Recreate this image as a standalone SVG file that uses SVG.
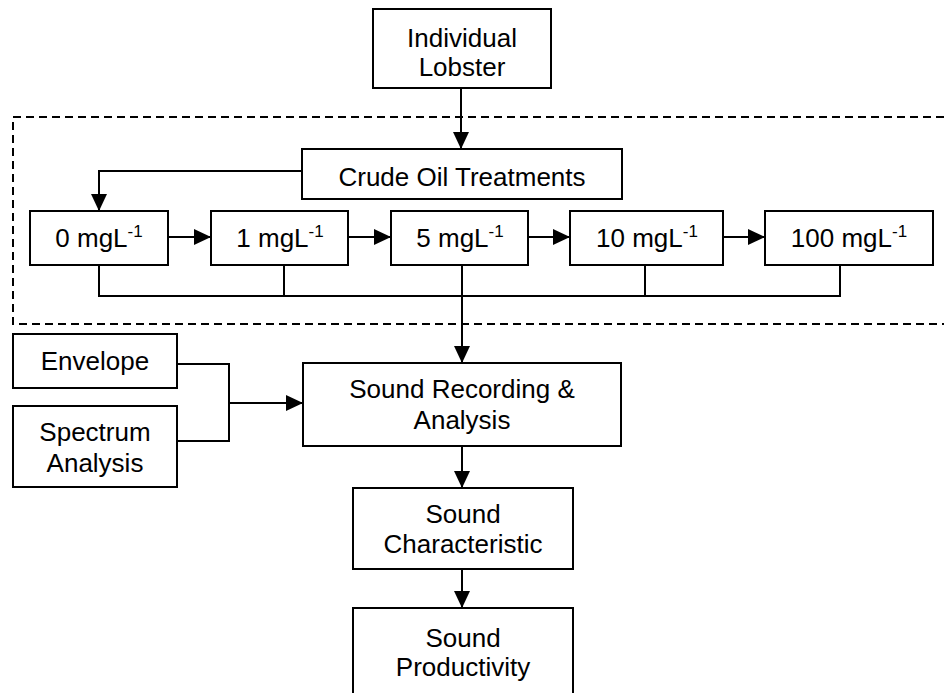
<svg xmlns="http://www.w3.org/2000/svg" width="944" height="693" viewBox="0 0 944 693">
<defs>
<marker id="ah" markerUnits="userSpaceOnUse" markerWidth="18" markerHeight="18" viewBox="0 0 18 18" refX="17" refY="9" orient="auto">
<path d="M0,1 L17,9 L0,17 Z" fill="#000"/>
</marker>
<style>
.box{fill:#fff;stroke:#000;stroke-width:2}
.ln{fill:none;stroke:#000;stroke-width:2}
.arr{fill:none;stroke:#000;stroke-width:2;marker-end:url(#ah)}
.dash{fill:none;stroke:#000;stroke-width:2;stroke-dasharray:8 5}
text{font-family:"Liberation Sans",Arial,sans-serif;font-size:26px;fill:#000;text-anchor:middle}
.sup{font-size:17px}
</style>
</defs>
<rect width="944" height="693" fill="#fff"/>
<path class="dash" d="M944,117 H13 V324 H944"/>
<g id="connectors">
<line class="arr" x1="461" y1="88" x2="461" y2="149"/>
<polyline class="arr" points="302,171 99,171 99,211"/>
<line class="arr" x1="168" y1="237" x2="211" y2="237"/>
<line class="arr" x1="348" y1="237" x2="391" y2="237"/>
<line class="arr" x1="528" y1="237" x2="570" y2="237"/>
<line class="arr" x1="723" y1="237" x2="765" y2="237"/>
<polyline class="ln" points="99,265 99,296 840,296 840,265"/>
<line class="ln" x1="284" y1="265" x2="284" y2="296"/>
<line class="ln" x1="645" y1="265" x2="645" y2="296"/>
<line class="arr" x1="462" y1="265" x2="462" y2="363"/>
<polyline class="ln" points="177,364 229,364 229,441 177,441"/>
<line class="arr" x1="229" y1="403" x2="303" y2="403"/>
<line class="arr" x1="462" y1="446" x2="462" y2="488"/>
<line class="arr" x1="462" y1="569" x2="462" y2="608"/>
</g>
<g id="individual-lobster">
<rect class="box" x="373" y="9" width="178" height="79"/>
<text x="462" y="47">Individual</text>
<text x="462" y="76">Lobster</text>
</g>
<g id="crude-oil">
<rect class="box" x="302" y="149" width="320" height="50"/>
<text x="462" y="186">Crude Oil Treatments</text>
</g>
<g id="t0">
<rect class="box" x="30" y="211" width="138" height="54"/>
<text x="99" y="247">0 mgL<tspan class="sup" dy="-10">-1</tspan></text>
</g>
<g id="t1">
<rect class="box" x="211" y="211" width="137" height="54"/>
<text x="280" y="247">1 mgL<tspan class="sup" dy="-10">-1</tspan></text>
</g>
<g id="t5">
<rect class="box" x="391" y="211" width="137" height="54"/>
<text x="460" y="247">5 mgL<tspan class="sup" dy="-10">-1</tspan></text>
</g>
<g id="t10">
<rect class="box" x="570" y="211" width="153" height="54"/>
<text x="647" y="247">10 mgL<tspan class="sup" dy="-10">-1</tspan></text>
</g>
<g id="t100">
<rect class="box" x="765" y="211" width="168" height="54"/>
<text x="849" y="247">100 mgL<tspan class="sup" dy="-10">-1</tspan></text>
</g>
<g id="envelope">
<rect class="box" x="13" y="334" width="164" height="54"/>
<text x="95" y="370">Envelope</text>
</g>
<g id="spectrum">
<rect class="box" x="13" y="406" width="164" height="81"/>
<text x="95" y="441">Spectrum</text>
<text x="95" y="472">Analysis</text>
</g>
<g id="sound-recording">
<rect class="box" x="303" y="363" width="318" height="83"/>
<text x="462" y="398">Sound Recording &amp;</text>
<text x="462" y="429">Analysis</text>
</g>
<g id="sound-characteristic">
<rect class="box" x="353" y="488" width="220" height="81"/>
<text x="463" y="523">Sound</text>
<text x="463" y="553">Characteristic</text>
</g>
<g id="sound-productivity">
<rect class="box" x="353" y="608" width="220" height="120"/>
<text x="463" y="647">Sound</text>
<text x="463" y="676">Productivity</text>
</g>
</svg>
